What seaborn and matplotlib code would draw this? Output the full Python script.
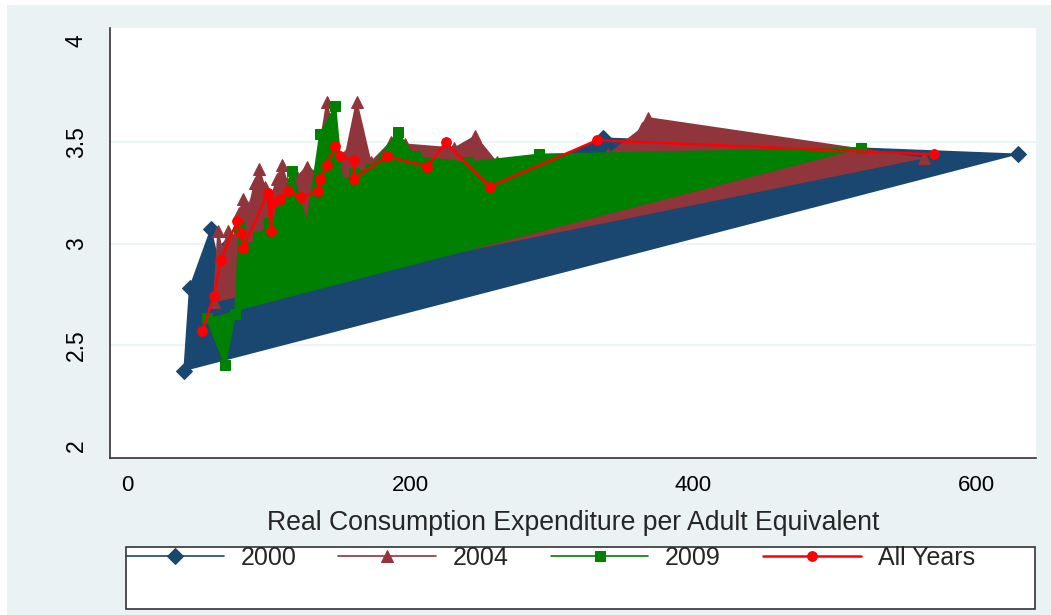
import seaborn as sns
import matplotlib.pyplot as plt
from matplotlib.patches import Rectangle

# data
x2000 = [40, 44, 59, 66, 72, 80, 88, 96, 102, 110, 120, 132, 145, 158, 175, 200, 235, 290, 336, 630]
y2000 = [2.37, 2.78, 3.07, 2.85, 3.00, 3.04, 3.10, 3.14, 3.17, 3.15, 3.20, 3.24, 3.28, 3.27, 3.32, 3.34, 3.33, 3.38, 3.52, 3.44]

x2004 = [61, 64, 67, 71, 75, 79, 82, 86, 90, 93, 97, 101, 106, 109, 113, 120, 127, 133, 141, 148, 154, 162,
         172, 186, 196, 231, 246, 261, 300, 340, 364, 368, 563]
y2004 = [2.71, 3.06, 2.96, 3.06, 3.02, 3.15, 3.22, 3.18, 3.30, 3.37, 3.28, 3.22, 3.32, 3.39, 3.30, 3.33, 3.38,
         3.35, 3.70, 3.44, 3.43, 3.70, 3.40, 3.50, 3.49, 3.47, 3.53, 3.40, 3.40, 3.44, 3.57, 3.62, 3.42]

x2009 = [56, 69, 76, 79, 84, 92, 100, 108, 116, 127, 136, 147, 152, 160, 172, 191, 203, 240, 291, 519]
y2009 = [2.63, 2.40, 2.65, 3.08, 2.98, 3.03, 3.10, 3.16, 3.36, 3.10, 3.54, 3.68, 3.30, 3.35, 3.37, 3.55, 3.43,
         3.40, 3.44, 3.47]

xall = [53, 61, 66, 77.5, 80, 82, 99, 101.5, 102, 108, 113.5, 123, 135, 136, 141, 147, 150, 160, 160,
        183.5, 212, 225, 256, 332, 570]
yall = [2.57, 2.74, 2.92, 3.11, 3.05, 2.98, 3.25, 3.06, 3.20, 3.22, 3.26, 3.23, 3.26, 3.32, 3.39, 3.48, 3.43,
        3.41, 3.32, 3.43, 3.38, 3.50, 3.28, 3.51, 3.44]

years = ['2000', '2004', '2009', 'All Years']
colors = ['#1A476F', '#90353B', '#008000', '#FF0000']
markers = ['D', '^', 's', 'o']
msizes = [8, 8.5, 6.5, 7]

sns.set_style('white')
plt.rcParams['font.family'] = ['Liberation Sans', 'DejaVu Sans']

bg = '#EAF2F3'
fig = plt.figure(figsize=(10.51, 6.15), dpi=100, facecolor='white')
# stata style graph region (white strip on left and top)
fig.patches.append(Rectangle((7 / 1051, 0), 1, 1 - 5 / 615, transform=fig.transFigure,
                             facecolor=bg, edgecolor='none', zorder=-10))
ax = fig.add_axes([110 / 1051, 1 - 458 / 615, (1036 - 110) / 1051, (458 - 28) / 615])
ax.set_facecolor('white')

series = [(x2000, y2000), (x2004, y2004), (x2009, y2009)]
for i, (xs, ys) in enumerate(series):
    ax.fill(xs, ys, color=colors[i], lw=0, zorder=2 + i)
    sns.lineplot(x=xs, y=ys, sort=False, estimator=None, color=colors[i], marker=markers[i],
                 markersize=msizes[i], markeredgecolor=colors[i], lw=1.2, ax=ax, label=years[i],
                 zorder=2 + i)
sns.lineplot(x=xall, y=yall, sort=False, estimator=None, color=colors[3], marker=markers[3],
             markersize=msizes[3], markeredgecolor=colors[3], lw=1.8, ax=ax, label=years[3], zorder=6)

ax.set_xlim(-12.4, 642.4)
ax.set_ylim(1.941, 4.064)
ax.set_xticks([0, 200, 400, 600])
ax.set_yticks([2, 2.5, 3, 3.5, 4])
ax.set_yticklabels(['2', '2.5', '3', '3.5', '4'], rotation=90, va='center', fontsize=16.5)
for gy in [2.5, 3, 3.5]:
    ax.axhline(gy, color=bg, lw=1.2, zorder=1)
ax.tick_params(axis='x', labelsize=16)
ax.tick_params(axis='both', colors='#333333', labelcolor='black', width=1)
ax.tick_params(axis='y', length=7, pad=9)
ax.tick_params(axis='x', length=6.5, pad=6)
for s in ['top', 'right']:
    ax.spines[s].set_visible(False)
for s in ['left', 'bottom']:
    ax.spines[s].set_color('#333333')
    ax.spines[s].set_linewidth(1.2)
ax.set_xlabel('Real Consumption Expenditure per Adult Equivalent', fontsize=19.2, labelpad=10)
ax.set_ylabel('')

# legend box as in stata
handles, labels = ax.get_legend_handles_labels()
ax.get_legend().remove()
fig.patches.append(Rectangle((126 / 1051, 1 - 609 / 615), (1035 - 126) / 1051, (609 - 547) / 615,
                             transform=fig.transFigure, facecolor='white', edgecolor='#333333', lw=1.2))
fig.legend(handles, labels, loc='upper left', bbox_to_anchor=(126 / 1051, 1 - 546 / 615), ncol=4,
           frameon=False, fontsize=18, handlelength=3.9, handletextpad=0.68, columnspacing=1.68,
           borderpad=0, borderaxespad=0)

plt.savefig('out.png', dpi=100, facecolor=fig.get_facecolor())
